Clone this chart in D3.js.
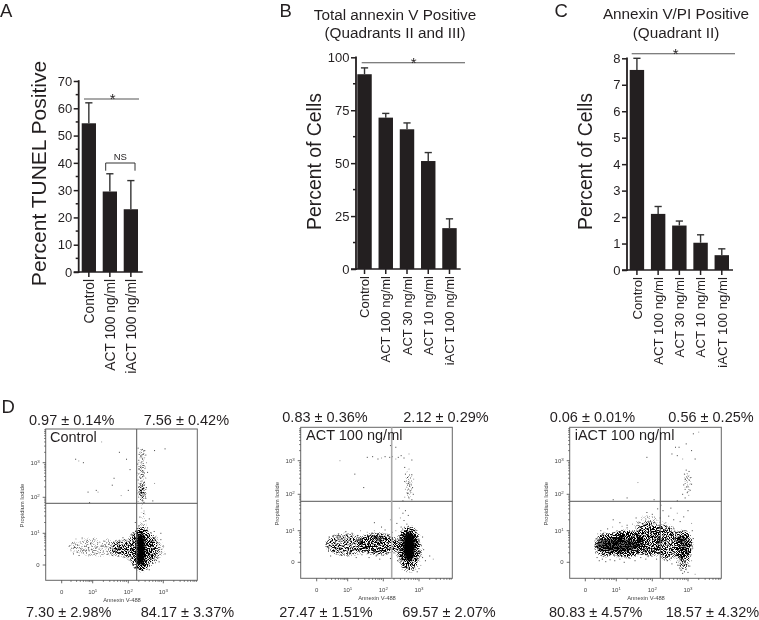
<!DOCTYPE html>
<html><head><meta charset="utf-8">
<script src="https://cdn.jsdelivr.net/npm/d3@7"></script>
<style>
html,body{margin:0;padding:0;background:#fff;width:759px;height:620px;overflow:hidden}
svg{display:block;filter:blur(0.3px)}
text{font-family:"Liberation Sans",Arial,sans-serif;fill:#231f20}
</style></head><body><svg id="c" width="759" height="620">
<defs><filter id="grain" filterUnits="userSpaceOnUse" x="0" y="420" width="759" height="170" color-interpolation-filters="sRGB">
<feGaussianBlur in="SourceAlpha" stdDeviation="2.6" result="d"/>
<feTurbulence type="fractalNoise" baseFrequency="0.95" numOctaves="2" seed="7" result="t"/>
<feColorMatrix in="t" type="matrix" values="0 0 0 0 0  0 0 0 0 0  0 0 0 0 0  3.2 0 0 0 -1.1" result="n"/>
<feComposite in="d" in2="n" operator="arithmetic" k1="2.6" k2="0" k3="0" k4="-0.3" result="s"/>
<feComponentTransfer in="s"><feFuncA type="linear" slope="1.7" intercept="0"/></feComponentTransfer>
</filter></defs>
</svg>
<script>
// ---------- bar chart data ----------
const categoriesA = ["Control","ACT 100 ng/ml","iACT 100 ng/ml"];
const valuesA = [54.5,29.5,23];
const errorTopsA = [62,36,33.5];
const ticksA = [0,10,20,30,40,50,60,70];
const minorA = [5,15,25,35,45,55,65];

const categoriesB = ["Control","ACT 100 ng/ml","ACT 30 ng/ml","ACT 10 ng/ml","iACT 100 ng/ml"];
const valuesB = [92,71.5,66,51,19.3];
const errorTopsB = [95,73.5,69,55,23.7];
const ticksB = [0,25,50,75,100];
const minorB = [12.5,37.5,62.5,87.5];

const categoriesC = ["Control","ACT 100 ng/ml","ACT 30 ng/ml","ACT 10 ng/ml","iACT 100 ng/ml"];
const valuesC = [7.56,2.12,1.68,1.03,0.56];
const errorTopsC = [8,2.4,1.85,1.33,0.8];
const ticksC = [0,1,2,3,4,5,6,7,8];

// ---------- flow cytometry data (axis decades) ----------
const flowMinor = [0.3,0.48,0.6,0.7,0.78,0.85,0.9,0.95];
const statsControl = ["0.97 ± 0.14%","7.56 ± 0.42%","7.30 ± 2.98%","84.17 ± 3.37%"];
const statsAct = ["0.83 ± 0.36%","2.12 ± 0.29%","27.47 ± 1.51%","69.57 ± 2.07%"];
const statsIact = ["0.06 ± 0.01%","0.56 ± 0.25%","80.83 ± 4.57%","18.57 ± 4.32%"];

// dense masses: centre x, centre y, radius x, radius y, density
const denseControl = [[2.36,0.48,0.15,0.62,1],[2.38,0.5,0.4,0.68,0.36],[2.75,0.5,0.3,0.48,0.24],[1.85,0.52,0.3,0.3,0.36],[1.1,0.56,0.85,0.34,0.22],[2.38,2.75,0.12,0.8,0.28],[2.4,2.05,0.12,0.3,0.3],[2.42,1.35,0.12,0.4,0.2]];
const denseAct = [[2.72,0.48,0.2,0.55,1],[2.72,0.42,0.36,0.72,0.42],[1.85,0.58,0.55,0.34,0.55],[0.95,0.56,0.62,0.36,0.38],[2.72,2.3,0.13,0.55,0.22]];
const denseIact = [[0.62,0.55,0.3,0.36,0.62],[1.25,0.58,0.55,0.4,0.78],[1.9,0.7,0.4,0.48,0.5],[2.4,0.62,0.34,0.55,0.42],[2.88,0.55,0.22,0.45,0.72],[2.88,0.05,0.18,0.36,0.36],[2.98,2.35,0.12,0.4,0.24],[1.9,1.2,0.45,0.26,0.22]];
// solid black centres of the same masses: centre x, centre y, radius x, radius y, opacity
const solidControl = [[2.36,0.5,0.12,0.5,1]];
const solidAct = [[2.72,0.5,0.17,0.46,1]];
const solidIact = [[1.05,0.55,0.6,0.2,0.6],[2.9,0.55,0.1,0.2,0.4]];

const pointsControl = [
[2.28,3.42],[2.4,3.38],[2.47,3.35],[2.33,3.3],[2.43,3.25],[2.5,3.22],[2.36,3.18],[2.46,3.14],[2.41,3.1],[2.3,3.07],[2.38,3.02],[2.52,3.0],[2.27,2.96],[2.42,2.92],[2.35,2.87],[2.48,2.83],[2.31,2.8],[2.4,2.76],[2.55,2.72],[2.25,2.7],[2.37,2.66],[2.44,2.62],[2.33,2.58],[2.5,2.55],[2.28,2.5],[2.39,2.47],[2.46,2.43],[2.36,2.4],[2.42,2.35],[2.3,2.3],[2.52,2.28],[2.38,2.24],[2.45,2.2],[2.33,2.17],[2.4,2.13],[2.27,2.1],[2.48,2.08],[2.36,2.05],[2.42,2.03],[2.3,2.0],[2.5,1.97],[2.35,1.94],[2.41,1.9],[2.28,1.88],[2.45,1.86],[2.34,2.12],[2.38,2.11],[2.43,2.12],[2.47,2.13],[2.31,3.24],[2.44,3.34],[2.39,3.2],[2.35,2.55],[2.41,2.6],[2.37,2.3],
[2.38,1.7],[2.44,1.55],[2.33,1.45],[2.5,1.35],[2.4,1.25],[2.3,1.2],[2.55,1.15],[2.36,1.1],[2.45,1.62],[2.6,1.4],[2.2,1.3],
[0.45,3.1],[0.55,3.05],[0.7,3.0],[0.9,1.85],[1.1,2.2],[1.15,2.15],[0.85,2.15],[1.55,2.35],[1.6,2.55],[1.8,2.05],[2.0,2.2],[2.05,2.8],[1.95,3.1],[1.25,3.6],[1.75,3.3],[3.05,3.4],[2.75,3.35],[2.75,2.4],[2.7,1.9],
[1.9,0.8],[1.95,0.55],[2.0,0.35],[2.03,0.75],[2.05,0.15],[2.08,0.95],[2.1,0.5],[2.12,0.05],[2.13,0.85],[2.15,0.3],[2.17,1.0],[2.18,-0.1],[2.2,0.65],[2.6,0.9],[2.62,0.5],[2.65,0.2],[2.68,0.75],[2.7,0.35],[2.72,0.6],[2.75,0.85],[2.78,0.45],[2.8,0.15],[2.83,0.7],[2.86,0.3],[2.9,0.55],[2.93,0.8],[2.96,0.4],[3.0,0.6],[3.05,0.35],[2.58,0.1],[2.55,-0.1],[2.6,-0.15],[2.7,0.05],[2.88,0.1],[2.65,1.0],[2.74,1.05],[2.93,1.0],
[0.25,0.6],[0.3,0.45],[0.35,0.7],[0.38,0.35],[0.42,0.55],[0.46,0.82],[0.5,0.4],[0.52,0.62],[0.56,0.3],[0.6,0.72],[0.63,0.5],[0.66,0.85],[0.7,0.38],[0.74,0.6],[0.78,0.45],[0.82,0.78],[0.86,0.55],[0.9,0.32],[0.94,0.68],[0.98,0.48],[1.02,0.82],[1.06,0.58],[1.1,0.36],[1.14,0.7],[1.18,0.5],[1.22,0.28],[1.26,0.62],[1.3,0.44],[1.34,0.75],[1.38,0.54],[1.42,0.34],[1.46,0.66],[1.5,0.46],[1.53,0.58],[1.56,0.3],[1.6,0.7],[1.63,0.5],[1.66,0.4],[1.7,0.62],[1.73,0.28],[1.76,0.52],[1.8,0.72],[1.83,0.42],[1.86,0.6],[1.88,0.25],[1.9,0.48],[1.68,0.66],[1.75,0.78],[1.79,0.37],[1.82,0.58],[1.85,0.86],[1.92,0.3],[1.97,0.68],[1.99,0.18],[2.02,0.44],[2.06,0.62],[2.09,0.26]
];
const pointsAct = [
[1.55,3.1],[1.7,3.12],[1.85,3.05],[1.95,3.08],[2.05,3.12],[2.18,3.1],[2.25,3.12],[2.35,3.05],[2.42,3.1],[2.5,3.15],[2.58,3.08],[2.72,3.2],[2.8,3.02],[2.2,3.45],[2.35,3.4],[0.75,3.0],[1.2,2.6],[1.45,2.2],
[2.6,2.8],[2.72,2.75],[2.62,2.6],[2.8,2.58],[2.68,2.5],[2.85,2.45],[2.6,2.38],[2.72,2.36],[2.78,2.3],[2.68,2.28],[2.74,2.24],[2.7,2.32],[2.82,2.2],[2.62,2.15],[2.75,2.1],[2.68,2.02],[2.84,2.0],[2.6,1.92],[2.72,1.9],[2.8,1.85],[2.55,1.82],
[2.45,1.62],[2.62,1.55],[2.55,1.48],[2.7,1.42],[2.48,1.35],[2.58,1.28],[2.38,1.2],[2.66,1.18],[2.2,1.3],[1.75,1.22],[1.95,1.1],[2.5,1.1],[2.75,1.08],
[0.36,0.6],[0.38,0.35],[0.4,0.8],[0.42,0.48],[0.45,0.2],[0.47,0.68],[0.5,0.55],[0.52,0.32],[0.55,0.85],[0.58,0.45],[0.6,0.7],[0.63,0.25],[0.66,0.58],[0.7,0.9],[0.73,0.4],[0.76,0.65],[0.8,0.22],[0.83,0.5],[0.87,0.8],[0.9,0.35],[0.94,0.97],[0.97,0.6],[1.0,0.2],[1.04,0.75],[1.08,0.42],[1.12,0.92],[1.16,0.28],[1.2,0.66],[1.24,0.15],[1.28,0.85],[1.32,0.5],[1.36,1.0],[1.4,0.24],[1.45,0.78],[1.5,0.38],[1.55,0.95],[1.6,0.15],[1.65,0.85],[1.7,0.3],[1.75,1.0],[1.8,0.2],[1.85,0.9],[1.9,0.1],[1.95,0.82],[2.0,0.22],[2.05,1.02],[2.1,0.25],[2.15,0.88],[2.2,0.12],[2.25,0.95],[2.3,0.3],[2.35,1.0],[2.4,0.05],
[3.0,0.7],[3.03,0.3],[3.06,0.55],[3.1,0.15],[3.13,0.4],[3.18,0.05],[3.05,-0.1],[3.0,-0.2],[2.95,-0.3],[3.3,0.2],[3.4,0.1],[3.1,0.8],[2.85,-0.25],[2.72,-0.18],[2.65,-0.12],[1.2,0.4],[1.3,0.7],[0.62,0.4],[0.82,0.7],[1.04,0.3],[1.42,0.55],[1.6,0.62],[1.7,0.52],[2.18,0.42],[2.26,0.66]
];
const pointsIact = [
[1.85,3.1],[2.55,3.2],[2.7,3.15],[2.85,3.05],[2.95,3.5],[3.1,3.3],[3.15,3.8],[3.3,3.85],[2.65,3.4],[2.75,3.4],[3.2,3.05],[1.6,2.35],[1.3,1.9],[0.9,1.85],[2.05,1.85],[2.25,1.7],
[2.95,2.72],[3.03,2.68],[2.9,2.6],[3.0,2.55],[3.08,2.5],[2.92,2.45],[3.04,2.42],[2.98,2.36],[3.1,2.3],[2.88,2.28],[3.0,2.22],[2.92,2.15],[3.06,2.12],[2.98,2.05],[2.85,2.0],[3.02,1.97],[2.92,1.9],[2.7,1.82],
[1.55,1.35],[1.7,1.3],[1.85,1.5],[1.95,1.25],[2.0,1.45],[2.1,1.2],[2.15,1.6],[2.22,1.35],[2.3,1.55],[2.38,1.22],[2.46,1.4],[2.52,1.62],[2.6,1.3],[2.7,1.48],[2.78,1.25],[2.88,1.38],[3.0,1.55],[3.1,1.2],[1.3,1.15],[1.1,1.22],[0.9,1.3],
[0.3,0.55],[0.33,0.3],[0.35,0.75],[0.38,0.15],[0.4,0.9],[0.45,0.05],[0.5,1.0],[0.55,0.1],[0.6,0.95],[0.66,0.02],[0.72,1.05],[0.8,0.08],[0.88,1.1],[0.95,0.05],[1.02,1.0],[1.1,0.1],[1.16,1.12],[1.22,0.0],[1.3,1.08],[1.38,0.12],[1.45,1.18],[1.52,0.05],[1.6,1.22],[1.68,0.15],[1.75,1.2],[1.82,0.1],[1.9,1.25],[1.98,0.2],[2.05,1.18],[2.12,0.1],[2.2,1.15],[2.28,0.25],[2.35,1.2],[2.42,0.05],[2.48,1.1],[2.55,-0.05],[2.62,1.05],[2.68,0.0],
[2.35,0.4],[2.4,0.8],[2.45,0.55],[2.5,0.25],[2.55,0.9],[2.58,0.4],[2.62,0.7],[2.66,0.2],[2.7,0.95],[2.72,-0.1],[2.76,-0.2],[2.8,-0.25],[2.85,-0.35],[2.9,-0.3],[2.95,-0.2],[3.0,-0.32],[3.05,-0.12],[2.78,-0.05],[3.1,0.05],[3.13,0.45],[3.15,0.75],[3.12,1.0],[3.2,-0.38],
[0.42,0.6],[0.55,0.35],[0.7,0.7],[0.85,0.4],[1.0,0.75],[1.15,0.3],[1.3,0.8],[1.45,0.42],[1.6,0.85],[1.75,0.45],[1.9,0.9],[2.05,0.5],[2.2,0.95],[2.3,0.7]
];

// ---------- layout ----------
const svg = d3.select("#c");
const ink = "#231f20";

function barPanel(o){
  const g = svg.append("g");
  const x = d3.scaleBand().domain(o.categories).range(o.barRange).paddingInner(0.32).paddingOuter(0);
  const y = d3.scaleLinear().domain(o.domain).range(o.yRange);
  const axisX = o.axisX, y0 = o.yRange[0];
  g.selectAll("rect.bar").data(o.values).join("rect").attr("class","bar")
    .attr("x",(d,i)=>x(o.categories[i])).attr("width",x.bandwidth())
    .attr("y",d=>y(d)).attr("height",d=>y0-y(d)).attr("fill",ink);
  const cx = i=>x(o.categories[i])+x.bandwidth()/2;
  g.selectAll("line.err").data(o.errorTops).join("line").attr("class","err").attr("x1",(d,i)=>cx(i)).attr("x2",(d,i)=>cx(i))
    .attr("y1",(d,i)=>y(o.values[i])).attr("y2",d=>y(d)).attr("stroke","#333").attr("stroke-width",1.4);
  g.selectAll("line.cap").data(o.errorTops).join("line").attr("class","cap").attr("x1",(d,i)=>cx(i)-3.6).attr("x2",(d,i)=>cx(i)+3.6)
    .attr("y1",d=>y(d)).attr("y2",d=>y(d)).attr("stroke","#333").attr("stroke-width",1.4);
  // y axis
  const ay = g.append("g").attr("transform",`translate(${axisX},0)`)
    .call(d3.axisLeft(y).tickValues(o.ticks).tickSize(5).tickPadding(1.5).tickFormat(d3.format("d")));
  ay.select(".domain").attr("stroke",ink).attr("stroke-width",1.8).attr("d",`M0,${o.yRange[1]-0.8}V${y0+1}`);
  ay.selectAll(".tick line").attr("stroke",ink).attr("stroke-width",1.5);
  ay.selectAll(".tick text").attr("font-size",13).style("font-family",'"Liberation Sans",Arial,sans-serif');
  if(o.minor) g.selectAll("line.minor").data(o.minor).join("line").attr("class","minor").attr("x1",axisX-3).attr("x2",axisX)
    .attr("y1",d=>y(d)).attr("y2",d=>y(d)).attr("stroke",ink).attr("stroke-width",1.5);
  // x axis
  const ax = g.append("g").attr("transform",`translate(0,${y0})`)
    .call(d3.axisBottom(x).tickSize(5).tickFormat(""));
  ax.select(".domain").attr("stroke",ink).attr("stroke-width",1.6).attr("d",`M${axisX-5},0H${o.axisEnd}`);
  ax.selectAll(".tick line").attr("stroke",ink).attr("stroke-width",1.5);
  g.selectAll("text.cat").data(o.categories).join("text").attr("class","cat")
    .attr("transform",(d,i)=>`translate(${cx(i)+o.catFont*0.36},${y0+7}) rotate(-90)`)
    .attr("text-anchor","end").attr("font-size",o.catFont).text(d=>d);
  // y title
  g.append("text").attr("transform",`translate(${o.titleX},${o.titleY}) rotate(-90)`)
    .attr("text-anchor","middle").attr("font-size",o.titleFont).text(o.yTitle);
  // significance
  g.append("line").attr("x1",o.sig[0]).attr("x2",o.sig[1]).attr("y1",o.sig[2]).attr("y2",o.sig[2]).attr("stroke","#555").attr("stroke-width",1.1);
  g.append("text").attr("x",o.sig[3]).attr("y",o.sig[2]+5).attr("text-anchor","middle").attr("font-size",15).text("*");
  if(o.ns){
    const [a,b,t,e] = o.ns;
    g.append("path").attr("d",`M${a},${e}V${t}H${b}V${e}`).attr("fill","none").attr("stroke","#333").attr("stroke-width",1);
    g.append("text").attr("x",(a+b)/2).attr("y",t-3).attr("text-anchor","middle").attr("font-size",9.5).text("NS");
  }
  (o.head||[]).forEach((t,i)=>g.append("text").attr("x",o.headX).attr("y",o.headY[i]).attr("text-anchor","middle").attr("font-size",15.3).text(t));
  svg.append("text").attr("x",o.letter[0]).attr("y",o.letter[1]).attr("font-size",18.5).text(o.letter[2]);
}

barPanel({categories:categoriesA,values:valuesA,errorTops:errorTopsA,ticks:ticksA,minor:minorA,domain:[0,70],yRange:[272,81],
  barRange:[81.7,138],axisX:78.7,axisEnd:142.7,catFont:13.8,yTitle:"Percent TUNEL Positive",titleX:45.5,titleY:173.5,titleFont:21,
  sig:[84,139,99,112.7],ns:[105.7,135,163,170.7],letter:[0,17,"A"]});
barPanel({categories:categoriesB,values:valuesB,errorTops:errorTopsB,ticks:ticksB,minor:minorB,domain:[0,100],yRange:[269,57.3],
  barRange:[357.3,456.7],axisX:356,axisEnd:460.7,catFont:13,yTitle:"Percent of Cells",titleX:321,titleY:161.5,titleFont:19.4,
  sig:[361.7,465,62.7,413.7],letter:[279.5,17,"B"],head:["Total annexin V Positive","(Quadrants II and III)"],headX:395,headY:[20,37.5]});
barPanel({categories:categoriesC,values:valuesC,errorTops:errorTopsC,ticks:ticksC,domain:[0,8],yRange:[270,58.3],
  barRange:[629.7,729],axisX:627,axisEnd:733,catFont:13.2,yTitle:"Percent of Cells",titleX:592,titleY:161.5,titleFont:19.4,
  sig:[631.7,735,53.7,675.7],letter:[554.5,17,"C"],head:["Annexin V/PI Positive","(Quadrant II)"],headX:676,headY:[19,38]});

// panel D letter
svg.append("text").attr("x",1.5).attr("y",413).attr("font-size",18.5).text("D");

function flowPanel(o){
  const g = svg.append("g");
  const x = d3.scaleLinear().domain([0,1,2,3]).range(o.xTicks);
  const y = d3.scaleLinear().domain([0,1,2,3]).range(o.yTicks);
  const [L,R,T,B] = o.box;
  const clip = "clip"+o.id;
  g.append("clipPath").attr("id",clip).append("rect").attr("x",L).attr("y",T).attr("width",R-L).attr("height",B-T);
  const plot = g.append("g").attr("clip-path",`url(#${clip})`);
  const ell = (sel,data)=>sel.selectAll("ellipse").data(data).join("ellipse")
    .attr("cx",d=>x(d[0])).attr("cy",d=>y(d[1]))
    .attr("rx",d=>x(d[0]+d[2])-x(d[0])).attr("ry",d=>y(d[1])-y(d[1]+d[3]))
    .attr("fill","#000").attr("opacity",d=>d[4]);
  ell(plot.append("g").attr("filter","url(#grain)"),o.dense);
  ell(plot.append("g").style("filter","blur(1.2px)"),o.solid);
  plot.selectAll("rect.pt").data(o.points).join("rect").attr("class","pt")
    .attr("x",d=>x(d[0])-0.5).attr("y",d=>y(d[1])-0.5).attr("width",1).attr("height",1)
    .attr("fill","#222").attr("opacity",(d,i)=>i%4===3?0.45:0.85);
  g.append("rect").attr("x",L).attr("y",T).attr("width",R-L).attr("height",B-T).attr("fill","none").attr("stroke","#666").attr("stroke-width",1);
  g.append("line").attr("x1",L).attr("x2",R).attr("y1",o.hLine).attr("y2",o.hLine).attr("stroke","#555").attr("stroke-width",1);
  g.append("line").attr("x1",o.vLine).attr("x2",o.vLine).attr("y1",T).attr("y2",B).attr("stroke",o.vColor||"#555").attr("stroke-width",o.vWidth||1);
  // ticks
  const xt = d3.range(0,4).flatMap(n=>flowMinor.map(m=>n+m));
  const yt = xt;
  g.selectAll("line.xm").data(xt.filter(d=>x(d)<R)).join("line").attr("class","xm").attr("x1",d=>x(d)).attr("x2",d=>x(d)).attr("y1",B).attr("y2",B+1.6).attr("stroke","#444").attr("stroke-width",.7);
  g.selectAll("line.ym").data(yt.filter(d=>y(d)>T)).join("line").attr("class","ym").attr("y1",d=>y(d)).attr("y2",d=>y(d)).attr("x1",L-1.6).attr("x2",L).attr("stroke","#444").attr("stroke-width",.7);
  const labs = ["0","10","10","10"], sup = ["","1","2","3"];
  labs.forEach((t,i)=>{
    g.append("line").attr("x1",x(i)).attr("x2",x(i)).attr("y1",B).attr("y2",B+3).attr("stroke","#444").attr("stroke-width",.8);
    g.append("line").attr("y1",y(i)).attr("y2",y(i)).attr("x1",L-3).attr("x2",L).attr("stroke","#444").attr("stroke-width",.8);
    const tx = g.append("text").attr("x",x(i)).attr("y",B+14).attr("text-anchor","middle").attr("font-size",6).style("fill","#444").text(t);
    if(sup[i]) tx.append("tspan").attr("dy",-2).attr("font-size",4.4).text(sup[i]);
    const ty = g.append("text").attr("x",L-6).attr("y",y(i)+2).attr("text-anchor","end").attr("font-size",6).style("fill","#444").text(t);
    if(sup[i]) ty.append("tspan").attr("dy",-2).attr("font-size",4.4).text(sup[i]);
  });
  g.append("text").attr("x",(L+R)/2+0.5).attr("y",B+22).attr("text-anchor","middle").attr("font-size",5.8).style("fill","#444").text("Annexin V-488");
  g.append("text").attr("transform",`translate(${L-21.5},${(T+B)/2+1}) rotate(-90)`).attr("text-anchor","middle").attr("font-size",5.8).style("fill","#444").text("Propidium Iodide");
  g.append("text").attr("x",o.nameX).attr("y",T+13).attr("font-size",14.5).text(o.name);
  o.stats.forEach((s,i)=>g.append("text").attr("x",o.statX[i]).attr("y",i<2?o.statY[0]:o.statY[1]).attr("font-size",14.5).text(s));
}

flowPanel({id:1,name:"Control",nameX:50,box:[45.7,197.3,429,580.3],hLine:503.3,vLine:136.7,
  xTicks:[61.7,92.7,128.3,163.3],yTicks:[565,533.3,497.3,462.7],dense:denseControl,solid:solidControl,points:pointsControl,stats:statsControl,
  statX:[29,143.7,26,140.7],statY:[425,616.5]});
flowPanel({id:2,name:"ACT 100 ng/ml",nameX:306,box:[300.7,452.3,427.3,578.3],hLine:501.3,vLine:391.7,vColor:"#aaa",vWidth:1.6,
  xTicks:[316.7,347.7,383.3,419],yTicks:[562.3,530.7,494.3,460.7],dense:denseAct,solid:solidAct,points:pointsAct,stats:statsAct,
  statX:[282.3,403.3,279.3,402.3],statY:[421.7,616.5]});
flowPanel({id:3,name:"iACT 100 ng/ml",nameX:574.7,box:[569.7,721.3,427.3,578.3],hLine:501.3,vLine:660.3,
  xTicks:[585.3,616.3,652.3,688],yTicks:[562.3,530.7,494.3,460.7],dense:denseIact,solid:solidIact,points:pointsIact,stats:statsIact,
  statX:[549.7,668.3,549,665.7],statY:[421.7,616.5]});
</script></body></html>
